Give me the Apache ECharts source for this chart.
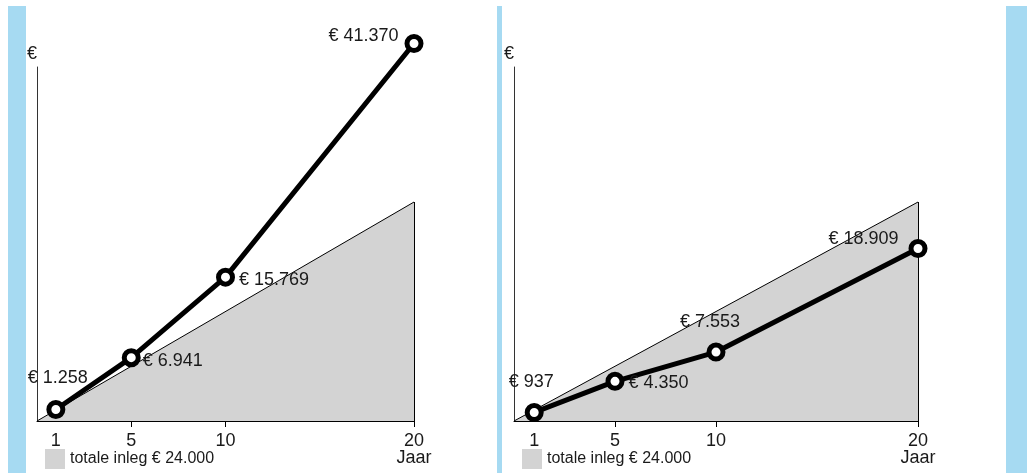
<!DOCTYPE html>
<html>
<head>
<meta charset="utf-8">
<script src="https://cdn.jsdelivr.net/npm/echarts@6/dist/echarts.min.js"></script>
<style>
html,body{margin:0;padding:0;background:#fff;}
#chart{width:1027px;height:473px;}
</style>
</head>
<body>
<div id="chart"></div>
<script>
// ---- data ----
const years = [1, 5, 10, 20];
const leftValues = [1258, 6941, 15769, 41370];
const rightValues = [937, 4350, 7553, 18909];
const depositYears = [0, 20];
const depositValues = [0, 24000];
const tickLabelValues = [1, 5, 10, 20];
const tickMarkValues = [5, 10, 20];
const depositName = 'totale inleg € 24.000';
const xAxisTitle = 'Jaar';
const yAxisTitle = '€';

// ---- helpers ----
const FONT = "'Liberation Sans', Arial, sans-serif";
function fmt(v) {
  return '€ ' + String(v).replace(/\B(?=(\d{3})+(?!\d))/g, '.');
}
const leftPlacement = [
  { position: 'top', offset: [2, -8] },
  { position: 'right', offset: [-3, 3] },
  { position: 'right', offset: [-1, 3] },
  { position: 'left', offset: [-1, -8] }
];
const rightPlacement = [
  { position: 'top', offset: [-3, -7] },
  { position: 'right', offset: [-1, 2] },
  { position: 'top', offset: [-6, -7] },
  { position: 'left', offset: [-5, -9] }
];

function mainSeries(values, placement, idx) {
  return {
    type: 'line',
    xAxisIndex: idx, yAxisIndex: idx,
    z: 5,
    clip: false,
    symbol: 'circle',
    symbolSize: 14,
    lineStyle: { color: '#000', width: 5 },
    itemStyle: { color: '#fff', borderColor: '#000', borderWidth: 5 },
    label: {
      show: true, fontFamily: FONT, fontSize: 18, color: '#1a1a1a',
      formatter: p => fmt(p.value[1])
    },
    data: years.map((y, i) => ({
      value: [y, values[i]],
      label: placement[i]
    }))
  };
}
function depositSeries(idx) {
  return {
    name: depositName,
    type: 'line',
    xAxisIndex: idx, yAxisIndex: idx,
    z: 2,
    symbol: 'none',
    itemStyle: { color: '#d3d3d3' },
    lineStyle: { color: '#000', width: 1 },
    areaStyle: { color: '#d3d3d3', opacity: 1 },
    data: depositYears.map((y, i) => [y, depositValues[i]]),
    markLine: {
      silent: true, symbol: 'none', label: { show: false },
      lineStyle: { color: '#000', width: 1, type: 'solid' },
      data: [[
        { coord: [depositYears[1], 0] },
        { coord: [depositYears[1], depositValues[1]] }
      ]]
    }
  };
}
function xAxis(idx) {
  return {
    type: 'value', gridIndex: idx, min: 0, max: 20,
    splitLine: { show: false },
    axisLine: { lineStyle: { color: '#000', width: 1 } },
    axisTick: { show: true, length: 6, customValues: tickMarkValues, lineStyle: { color: '#000' } },
    axisLabel: {
      customValues: tickLabelValues, margin: 12,
      fontFamily: FONT, fontSize: 18, color: '#1a1a1a', lineHeight: 17,
      formatter: v => v === 20 ? '20\n' + xAxisTitle : String(v)
    }
  };
}
function yAxis(idx) {
  return {
    type: 'value', gridIndex: idx, min: 0, max: 38800,
    name: yAxisTitle, nameLocation: 'end', nameGap: 4,
    nameTextStyle: { fontFamily: FONT, fontSize: 18, color: '#1a1a1a', align: 'right' },
    splitLine: { show: false },
    axisLine: { show: true, lineStyle: { color: '#333', width: 1 } },
    axisTick: { show: false },
    axisLabel: { show: false }
  };
}
function legend(left) {
  return {
    left: left, top: 449, padding: 0,
    icon: 'rect', itemWidth: 20, itemHeight: 20, itemGap: 5,
    itemStyle: { borderWidth: 0 },
    textStyle: { fontFamily: FONT, fontSize: 16, color: '#1a1a1a' },
    data: [depositName],
    selectedMode: false
  };
}

const stripColor = '#a6daf2';
const option = {
  animation: false,
  backgroundColor: '#fff',
  grid: [
    { left: 37, top: 67, width: 377, height: 354 },
    { left: 514, top: 67, width: 404, height: 354 }
  ],
  xAxis: [xAxis(0), xAxis(1)],
  yAxis: [yAxis(0), yAxis(1)],
  legend: [legend(45), legend(522)],
  graphic: [
    { type: 'rect', left: 8, top: 6, shape: { width: 18, height: 467 }, style: { fill: stripColor }, silent: true },
    { type: 'rect', left: 497, top: 6, shape: { width: 5, height: 467 }, style: { fill: stripColor }, silent: true },
    { type: 'rect', left: 1006, top: 6, shape: { width: 21, height: 467 }, style: { fill: stripColor }, silent: true }
  ],
  series: [
    depositSeries(0), mainSeries(leftValues, leftPlacement, 0),
    depositSeries(1), mainSeries(rightValues, rightPlacement, 1)
  ]
};
const chart = echarts.init(document.getElementById('chart'), null, { renderer: 'canvas' });
chart.setOption(option);
</script>
</body>
</html>
